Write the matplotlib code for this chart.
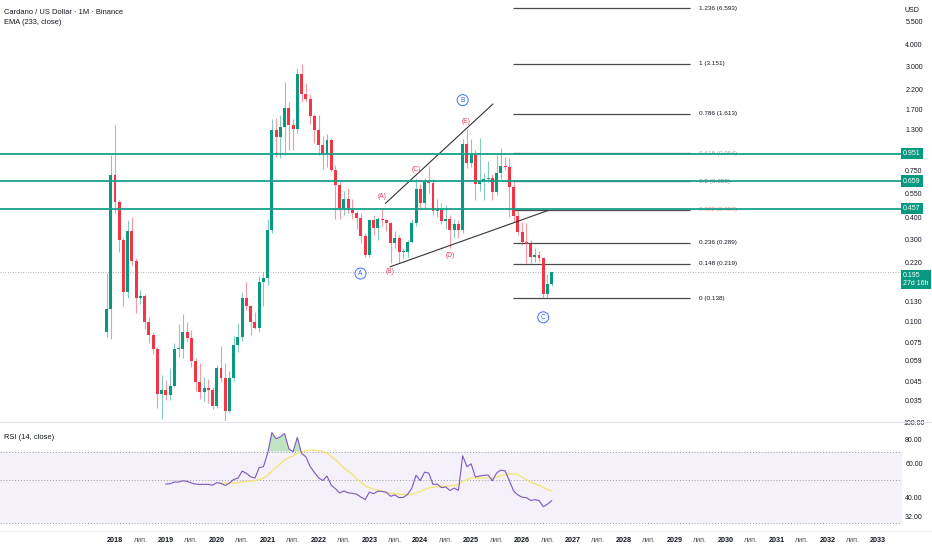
import numpy as np
import matplotlib
matplotlib.use("Agg")
import matplotlib.pyplot as plt
from matplotlib.transforms import blended_transform_factory

plt.rcParams['font.family'] = ['Liberation Sans Narrow', 'Liberation Sans', 'DejaVu Sans']

# ---------------- data (monthly candles, Nov 2017 .. Aug 2026) ----------------
month_index = list(range(-2, 104))   # 0 = Jan 2018
highs = [0.193, 0.933, 1.39, 0.51, 0.31, 0.393, 0.41, 0.235, 0.155, 0.147,
         0.107, 0.088, 0.0725, 0.0498, 0.0466, 0.0546, 0.0762, 0.098, 0.112, 0.101,
         0.090, 0.062, 0.058, 0.048, 0.047, 0.042, 0.057, 0.073, 0.058, 0.052,
         0.083, 0.099, 0.150, 0.172, 0.126, 0.115, 0.185, 0.197, 0.400, 1.50,
         1.53, 1.59, 2.48, 1.90, 1.50, 2.96, 3.15, 2.44, 2.10, 1.62,
         1.60, 1.20, 1.24, 1.17, 0.82, 0.66, 0.58, 0.60, 0.52, 0.44,
         0.43, 0.33, 0.40, 0.42, 0.41, 0.46, 0.40, 0.38, 0.34, 0.32,
         0.27, 0.30, 0.40, 0.68, 0.63, 0.69, 0.81, 0.68, 0.52, 0.49,
         0.48, 0.42, 0.40, 0.39, 1.15, 1.32, 1.16, 1.00, 1.17, 0.73,
         0.86, 0.72, 0.93, 1.02, 0.91, 0.896, 0.66, 0.45, 0.38, 0.377,
         0.30, 0.27, 0.26, 0.24, 0.19, 0.197]
lows = [0.082, 0.080, 0.43, 0.257, 0.124, 0.138, 0.215, 0.113, 0.128, 0.091,
        0.0757, 0.066, 0.0318, 0.0274, 0.0357, 0.0357, 0.0420, 0.063, 0.062, 0.078,
        0.055, 0.040, 0.036, 0.035, 0.034, 0.0315, 0.032, 0.045, 0.0176, 0.030,
        0.046, 0.067, 0.078, 0.118, 0.085, 0.091, 0.088, 0.125, 0.165, 0.33,
        0.91, 0.90, 0.93, 1.00, 1.00, 1.25, 1.90, 1.90, 1.42, 1.10,
        0.93, 0.77, 0.80, 0.74, 0.40, 0.40, 0.42, 0.43, 0.40, 0.35,
        0.29, 0.24, 0.24, 0.32, 0.30, 0.36, 0.34, 0.22, 0.27, 0.22,
        0.235, 0.24, 0.29, 0.36, 0.45, 0.46, 0.56, 0.42, 0.41, 0.37,
        0.35, 0.27, 0.31, 0.31, 0.33, 0.78, 0.80, 0.51, 0.58, 0.51,
        0.65, 0.51, 0.55, 0.68, 0.76, 0.41, 0.38, 0.32, 0.28, 0.221,
        0.22, 0.225, 0.225, 0.138, 0.14, 0.162]
closes = [0.120, 0.715, 0.500, 0.301, 0.150, 0.340, 0.227, 0.138, 0.143, 0.101,
          0.0846, 0.0701, 0.0383, 0.0405, 0.0380, 0.0427, 0.0701, 0.0705, 0.088, 0.081,
          0.060, 0.045, 0.0394, 0.0416, 0.0405, 0.0330, 0.0544, 0.0477, 0.0306, 0.0477,
          0.0740, 0.0827, 0.139, 0.124, 0.101, 0.0925, 0.172, 0.180, 0.344, 1.30,
          1.19, 1.36, 1.74, 1.39, 1.32, 2.75, 2.10, 1.96, 1.56, 1.30,
          1.07, 0.955, 1.14, 0.766, 0.625, 0.459, 0.517, 0.449, 0.432, 0.404,
          0.317, 0.246, 0.393, 0.351, 0.400, 0.393, 0.375, 0.287, 0.307, 0.255,
          0.257, 0.293, 0.375, 0.590, 0.494, 0.662, 0.645, 0.444, 0.447, 0.389,
          0.397, 0.344, 0.372, 0.341, 1.08, 0.842, 0.933, 0.634, 0.662, 0.675,
          0.683, 0.572, 0.737, 0.806, 0.792, 0.612, 0.414, 0.336, 0.293, 0.285,
          0.240, 0.246, 0.235, 0.146, 0.167, 0.195]
first_open = 0.088
opens = [first_open] + closes[:-1]   # each month opens at the previous close

# horizontal support/resistance levels
level_prices = [0.951, 0.659, 0.457]

# fibonacci levels
fib_ratios = ["1.236", "1", "0.786", "0.618", "0.5", "0.382", "0.236", "0.148", "0"]
fib_prices = [6.593, 3.151, 1.613, 0.954, 0.659, 0.450, 0.289, 0.219, 0.138]
fib_start, fib_end = 93.9, 135.6

# triangle trend lines (month index, price)
upper_line_x = [63.8, 89.1]
upper_line_y = [0.49, 1.84]
lower_line_x = [64.9, 102.0]
lower_line_y = [0.21, 0.444]

# wave labels
blue_labels = ["A", "B", "C"]
blue_x = [57.9, 82.0, 101.0]
blue_y = [0.192, 1.94, 0.107]
red_labels = ["(A)", "(B)", "(C)", "(D)", "(E)"]
red_x = [62.9, 64.9, 71.0, 79.0, 82.8]
red_y = [0.54, 0.197, 0.764, 0.243, 1.455]

price_ticks = [5.5, 4.0, 3.0, 2.2, 1.7, 1.3, 0.75, 0.55, 0.4, 0.3, 0.22,
               0.13, 0.1, 0.075, 0.059, 0.045, 0.035]
rsi_ticks = [100, 80, 60, 40, 32]
years = list(range(2018, 2034))
mid_label = "лип."
current_price = 0.195
countdown = "27d 16h"

# ---------------- styling ----------------
GREEN = "#089981"
RED = "#F23645"
TXT = "#131722"
W, H = 932, 550

fig = plt.figure(figsize=(W / 100, H / 100), dpi=100)
fig.patch.set_facecolor("white")
right_px = 902
ax = fig.add_axes([0, (H - 421) / H, right_px / W, 421 / H])
axr = fig.add_axes([0, (H - 530) / H, right_px / W, 108 / H])

def px_to_idx(px):
    return (px - 115) / 4.24

xlim = (px_to_idx(0), px_to_idx(right_px))
for a in (ax, axr):
    a.set_xlim(*xlim)
    a.set_axis_off()

ax.set_yscale("log")
ax.set_ylim(0.02684, 7.38)

idx = np.array(month_index, dtype=float)
O = np.array(opens); Hh = np.array(highs); L = np.array(lows); C = np.array(closes)
up = C >= O
cols = np.where(up, GREEN, RED)

ax.vlines(idx, L, Hh, colors=cols, lw=0.8, alpha=0.5, zorder=2)
bot = np.minimum(O, C)
top = np.maximum(O, C)
top = np.maximum(top, bot * 1.012)
ax.bar(idx, top - bot, bottom=bot, width=0.7, color=cols, lw=0, zorder=3)

# current price dotted line
ax.axhline(current_price, color="#9598a1", lw=0.6, ls=(0, (1, 2)), zorder=1)

# fib lines
ax.hlines(fib_prices, fib_start, fib_end, colors="#4a4a4a", lw=0.9, zorder=2)
fib_colors = [TXT, TXT, TXT, "#a0a3ab", "#7b7e86", "#f28b82", TXT, TXT, TXT]
for r, p, c in zip(fib_ratios, fib_prices, fib_colors):
    ax.text(px_to_idx(699), p, f"{r} ({p:.3f})", fontsize=4.6, color=c,
            va="center", ha="left", zorder=4)

# teal levels
for p in level_prices:
    ax.axhline(p, color="#17a08a", lw=1.3, zorder=5)

# triangle
ax.plot(upper_line_x, upper_line_y, color="#333", lw=0.8, zorder=4)
ax.plot(lower_line_x, lower_line_y, color="#333", lw=0.8, zorder=4)

for t, x, y in zip(blue_labels, blue_x, blue_y):
    ax.text(x, y, t, fontsize=4.8, color="#2962FF", ha="center", va="center",
            zorder=6, bbox=dict(boxstyle="circle,pad=0.3", fc="white",
                                ec="#2962FF", lw=0.7, alpha=0.9))
for t, x, y in zip(red_labels, red_x, red_y):
    ax.text(x, y, t, fontsize=4.8, color="#e0405a", ha="center", va="center", zorder=6)

# right price axis
tr = blended_transform_factory(ax.transAxes, ax.transData)
xlab = 914 / right_px
for p in price_ticks:
    ax.text(xlab, p, f"{p:.3f}", transform=tr, fontsize=5, color=TXT,
            ha="center", va="center", clip_on=False, zorder=1)
for p in level_prices:
    ax.text(903 / right_px, p, f"{p:.3f}", transform=tr, fontsize=5, color="white",
            ha="left", va="center", clip_on=False, zorder=10,
            bbox=dict(boxstyle="square,pad=0.3", fc=GREEN, ec="none"))
ax.text(903 / right_px, current_price, f"{current_price:.3f}\n{countdown}", transform=tr,
        fontsize=5, color="white", ha="left", va="top", clip_on=False, zorder=10,
        linespacing=1.1,
        bbox=dict(boxstyle="square,pad=0.35", fc=GREEN, ec="none"))
fig.text(912 / W, 1 - 10 / H, "USD", fontsize=5, color=TXT, ha="center", va="center")

fig.text(4 / W, 1 - 12 / H, "Cardano / US Dollar · 1M · Binance", fontsize=5.4,
         color=TXT, ha="left", va="center")
fig.text(4 / W, 1 - 22 / H, "EMA (233, close)", fontsize=5.4, color=TXT,
         ha="left", va="center")

# ---------------- RSI pane (computed from the closes) ----------------
n = 14
cl = C
delta = np.diff(cl)
gain = np.maximum(delta, 0)
loss = np.maximum(-delta, 0)
avg_g = np.full(len(cl), np.nan)
avg_l = np.full(len(cl), np.nan)
avg_g[n] = gain[:n].mean()
avg_l[n] = loss[:n].mean()
for k in range(n + 1, len(cl)):
    avg_g[k] = (avg_g[k - 1] * (n - 1) + gain[k - 1]) / n
    avg_l[k] = (avg_l[k - 1] * (n - 1) + loss[k - 1]) / n
rsi = 100 - 100 / (1 + avg_g / avg_l)
rsi_ma = np.full(len(cl), np.nan)
for k in range(n + n - 1, len(cl)):
    rsi_ma[k] = np.mean(rsi[k - n + 1:k + 1])

axr.set_yscale("log")
axr.set_ylim(27.5, 99.5)
axr.axhspan(30, 70, color="#7E57C2", alpha=0.08, lw=0)
for lvl in (70, 50, 30):
    axr.axhline(lvl, color="#9598a1", lw=0.7, ls=(0, (1, 2)))
valid = ~np.isnan(rsi)
axr.fill_between(idx[valid], 70, rsi[valid], where=rsi[valid] > 70,
                 interpolate=True, color="#4CAF50", alpha=0.35, lw=0)
axr.plot(idx, rsi_ma, color="#F2E66A", lw=1.0, alpha=0.9)
axr.plot(idx, rsi, color="#7E57C2", lw=0.8)
axr.text(4 / right_px, 0.86, "RSI (14, close)", transform=axr.transAxes, fontsize=5.4,
         color=TXT, ha="left", va="center")
trr = blended_transform_factory(axr.transAxes, axr.transData)
for v in rsi_ticks:
    yv = v if v < 100 else 97.5
    axr.text(xlab, yv, f"{v:.2f}", transform=trr, fontsize=5, color=TXT,
             ha="center", va="center", clip_on=False)

# pane separators
fig.add_artist(plt.Line2D([0, 1], [1 - 422 / H, 1 - 422 / H], color="#e0e3eb", lw=0.8))
fig.add_artist(plt.Line2D([0, 1], [1 - 531 / H, 1 - 531 / H], color="#f0f3fa", lw=0.6))

# time axis labels
for yr in years:
    i = (yr - 2018) * 12
    xp = 115 + 4.24 * i
    fig.text(xp / W, 1 - 541 / H, str(yr), fontsize=5.2, color=TXT, ha="center",
             va="center", fontweight="bold")
    if yr < 2033:
        xm = 115 + 4.24 * (i + 6)
        fig.text(xm / W, 1 - 541 / H, mid_label, fontsize=5, color="#50535e",
                 ha="center", va="center")

fig.savefig("out.png", dpi=100, facecolor="white")
